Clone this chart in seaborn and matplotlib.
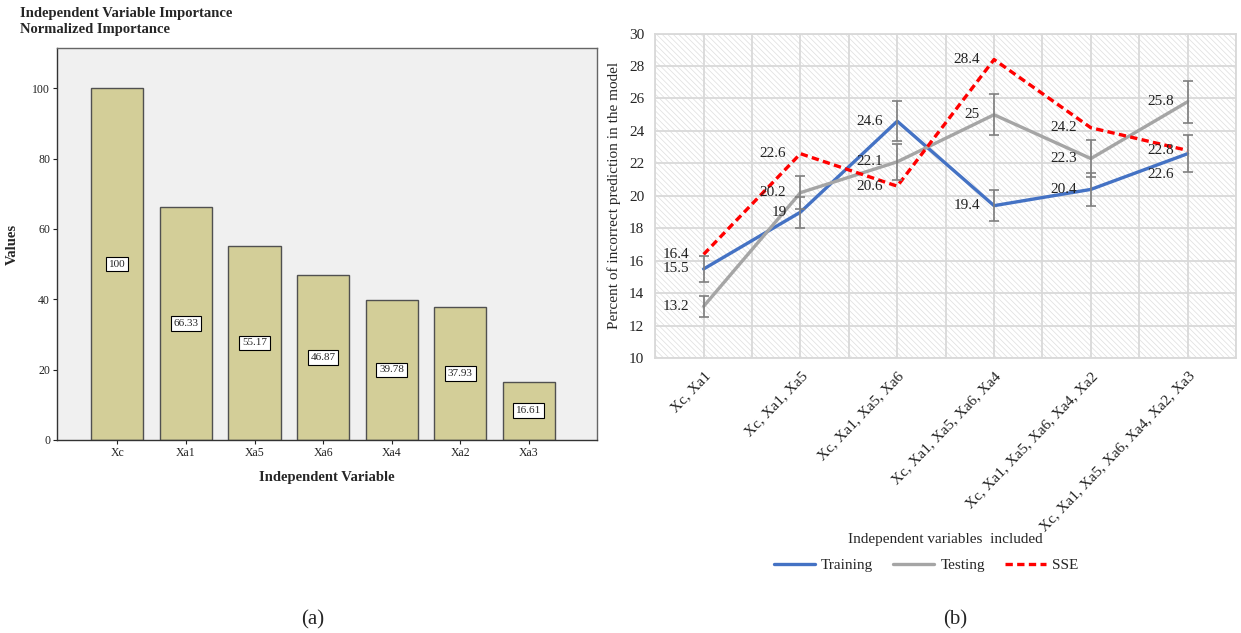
import pandas as pd
import matplotlib
matplotlib.use("Agg")
import matplotlib.pyplot as plt
from matplotlib.patches import Rectangle
from matplotlib.lines import Line2D
import seaborn as sns

# datos panel (a)
variables = ["Xc", "Xa1", "Xa5", "Xa6", "Xa4", "Xa2", "Xa3"]
importancia = [100, 66.33, 55.17, 46.87, 39.78, 37.93, 16.61]

# datos panel (b)
combinaciones = ["Xc, Xa1", "Xc, Xa1, Xa5", "Xc, Xa1, Xa5, Xa6",
                 "Xc, Xa1, Xa5, Xa6, Xa4", "Xc, Xa1, Xa5, Xa6, Xa4, Xa2",
                 "Xc, Xa1, Xa5, Xa6, Xa4, Xa2, Xa3"]
training = [15.5, 19, 24.6, 19.4, 20.4, 22.6]
testing = [13.2, 20.2, 22.1, 25, 22.3, 25.8]
sse = [16.4, 22.6, 20.6, 28.4, 24.2, 22.8]
err_pct = 0.05  # barras de error en porcentaje (5 %)

sns.set_theme(style="white")
plt.rcParams["font.family"] = ["Liberation Serif", "DejaVu Serif"]
plt.rcParams["hatch.linewidth"] = 0.5

fig = plt.figure(figsize=(12.41, 6.33), dpi=100)

# ---------- (a) ----------
ax1 = fig.add_axes([0.0459, 0.305, 0.435, 0.619])
ax1.set_facecolor("#f0f0f0")
df_a = pd.DataFrame({"Variable": variables, "Importancia": importancia})
sns.barplot(data=df_a, x="Variable", y="Importancia", color="#d3ce98",
            edgecolor="#505050", linewidth=1, width=0.76, saturation=1, ax=ax1)
for i, v in enumerate(importancia):
    ax1.text(i, v / 2, f"{v:g}", ha="center", va="center", fontsize=8,
             bbox=dict(boxstyle="square,pad=0.25", facecolor="white",
                       edgecolor="black", linewidth=0.8))
ax1.set_ylim(0, 111.4)
ax1.set_xlim(-0.88, 6.99)
ax1.set_yticks([0, 20, 40, 60, 80, 100])
ax1.tick_params(axis="both", labelsize=8.5, length=3, width=0.8, pad=2,
                direction="out", left=True, bottom=True, colors="#222222")
for s in ax1.spines.values():
    s.set_color("#666666")
    s.set_linewidth(1)
ax1.spines["left"].set_color("#333333")
ax1.spines["bottom"].set_color("#333333")
ax1.set_xlabel("Independent Variable", fontsize=10.5, fontweight="bold")
ax1.xaxis.set_label_coords(0.5, -0.08)
ax1.set_ylabel("Values", fontsize=10.5, fontweight="bold")
ax1.yaxis.set_label_coords(-0.07, 0.5)
fig.text(20 / 1241, 1 - 14 / 633, "Independent Variable Importance",
         fontsize=10.5, fontweight="bold", va="center")
fig.text(20 / 1241, 1 - 30 / 633, "Normalized Importance",
         fontsize=10.5, fontweight="bold", va="center")

# ---------- (b) ----------
ax2 = fig.add_axes([0.528, 0.434, 0.468, 0.513])
ax2.add_patch(Rectangle((0, 0), 1, 1, transform=ax2.transAxes,
                        facecolor="white", edgecolor="#dedede",
                        hatch="\\" * 6, linewidth=0, zorder=0))
df_b = pd.DataFrame({
    "Combinacion": combinaciones * 3,
    "Valor": training + testing + sse,
    "Serie": ["Training"] * 6 + ["Testing"] * 6 + ["SSE"] * 6,
})
colores = {"Training": "#4472c4", "Testing": "#a5a5a5", "SSE": "#ff0000"}
sns.lineplot(data=df_b, x="Combinacion", y="Valor", hue="Serie",
             palette=colores, style="Serie",
             dashes={"Training": "", "Testing": "", "SSE": (2.2, 1.3)},
             linewidth=2.4, sort=False, legend=False, ax=ax2, zorder=3)
for serie in (training, testing):
    ax2.errorbar(combinaciones, serie, yerr=[v * err_pct for v in serie],
                 fmt="none", ecolor="#7f7f7f", elinewidth=1.2, capsize=3.5,
                 capthick=1.2, zorder=4)

# etiquetas de datos
for serie in (training, testing, sse):
    for i, v in enumerate(serie):
        dy = 0
        if serie is training and i == 5:
            dy = -21
        ax2.annotate(f"{v:g}", (i, v), xytext=(-14, dy), textcoords="offset pixels",
                     ha="right", va="center", fontsize=11, color="#222222", zorder=5)

ax2.set_xlim(-0.5, 5.5)
ax2.set_ylim(10, 30)
ax2.set_yticks(range(10, 31, 2))
ax2.set_xticks(range(len(combinaciones)))
ax2.set_xticks([x + 0.5 for x in range(-1, 6)], minor=True)
ax2.grid(True, which="major", axis="y", color="#d9d9d9", linewidth=1.3)
ax2.grid(True, which="both", axis="x", color="#d9d9d9", linewidth=1.3)
ax2.set_axisbelow(True)
for s in ax2.spines.values():
    s.set_color("#d9d9d9")
    s.set_linewidth(1.3)
ax2.tick_params(axis="x", which="both", length=0, labelsize=11, pad=8)
ax2.tick_params(axis="y", length=0, labelsize=11, pad=8)
ax2.set_xticklabels(combinaciones, rotation=46, ha="right",
                    rotation_mode="anchor", color="#222222")
ax2.set_xlabel("Independent variables  included", fontsize=11)
ax2.xaxis.set_label_coords(0.499, -0.538)
ax2.set_ylabel("Percent of incorrect prediction in the model", fontsize=11,
               labelpad=6)

handles = [Line2D([], [], color=colores["Training"], lw=2.4),
           Line2D([], [], color=colores["Testing"], lw=2.4),
           Line2D([], [], color=colores["SSE"], lw=2.4, dashes=(2.2, 1.3))]
fig.legend(handles, ["Training", "Testing", "SSE"], loc="center",
           bbox_to_anchor=(926 / 1241, 1 - 565 / 633), ncol=3, frameon=False,
           fontsize=11, handlelength=2.7, columnspacing=1.3, handletextpad=0.4)

fig.text(313 / 1241, 1 - 620 / 633, "(a)", fontsize=15, ha="center", va="center")
fig.text(955 / 1241, 1 - 620 / 633, "(b)", fontsize=15, ha="center", va="center")

plt.savefig("out.png", dpi=100)
plt.close()
